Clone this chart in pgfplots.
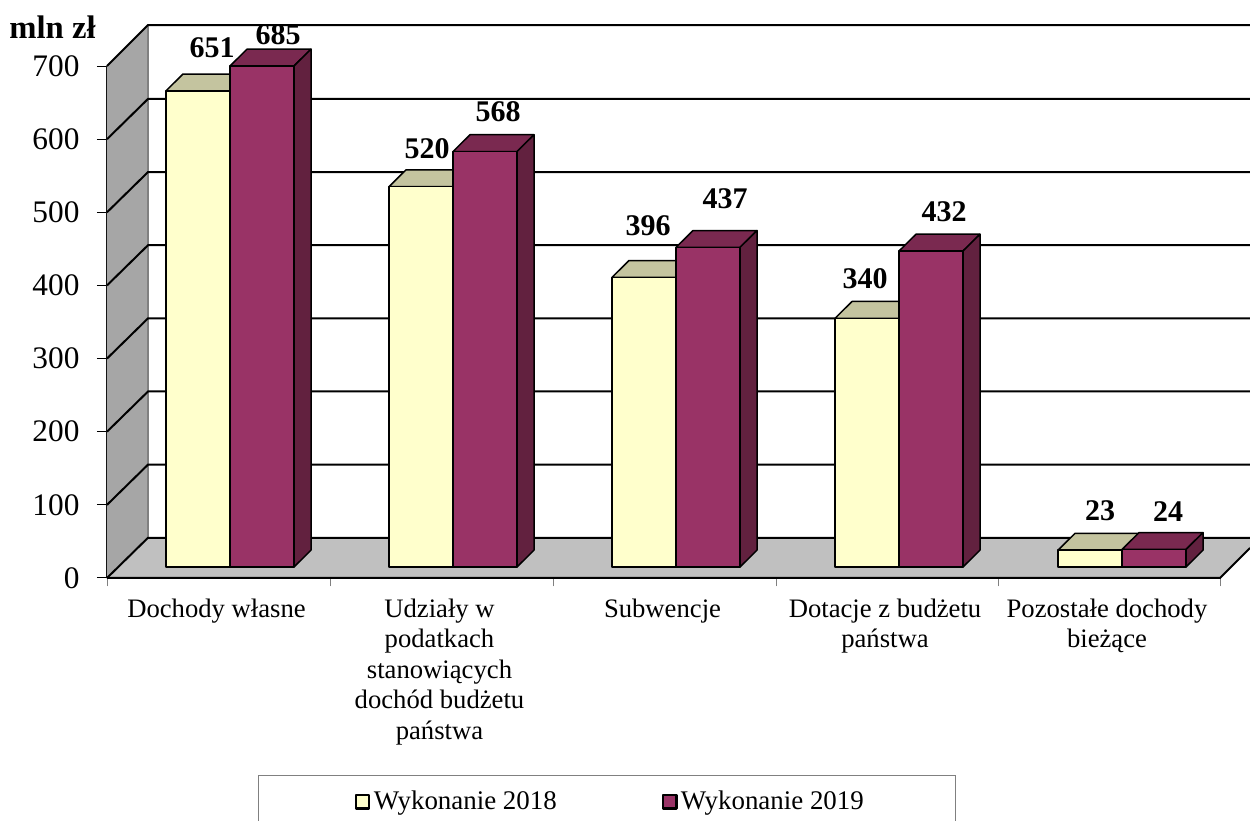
\documentclass[border=0pt]{standalone}
\usepackage{pgfplots}
\pgfplotsset{compat=1.18}
\usepackage{fontspec}
\setmainfont{Liberation Serif}
\definecolor{yfront}{HTML}{FFFFCC}
\definecolor{ytop}{HTML}{C4C49F}
\definecolor{mfront}{HTML}{993366}
\definecolor{mtop}{HTML}{7A2950}
\definecolor{mside}{HTML}{62213F}
\definecolor{wallc}{HTML}{A6A6A6}
\definecolor{floorc}{HTML}{C0C0C0}
\pgfplotstableread{
x y
198 651
421 520
644 396
867 340
1090 23
}\wykA
\pgfplotstableread{
x y
262 685
485 568
708 437
931 432
1154 24
}\wykB
\pgfplotsset{common/.style={scale only axis,width=685.8pt,height=307.2pt,xmin=107,xmax=1250,ymin=0,ymax=700,clip=false,anchor=south west}}
\begin{document}
\begin{tikzpicture}
\useasboundingbox (0,0) rectangle (750pt,492.6pt);
% walls, floor, grid, ticks
\begin{axis}[common,at={(64.2pt,145.8pt)},
  axis x line=bottom,axis y line=left,x axis line style={draw=none},
  y axis line style={-,line width=0.9pt},
  tick align=outside,major tick length=6pt,minor tick length=5pt,
  ytick={0,100,200,300,400,500,600,700},
  xtick={216.5,439.5,662.5,885,1107},
  minor xtick={107,330,553,776,998,1220},
  major x tick style={draw=none},
  minor x tick style={draw=gray},
  ytick style={draw=black,line width=0.6pt},
  xticklabels={{Dochody własne},{Udziały w\\podatkach\\stanowiących\\dochód budżetu\\państwa},{Subwencje},{Dotacje z budżetu\\państwa},{Pozostałe dochody\\bieżące}},
  x tick label style={font=\fontsize{16}{18.3}\selectfont,align=center,anchor=north,yshift=-3pt},
  y tick label style={font=\fontsize{18.8}{20}\selectfont},
  /pgf/number format/assume math mode=true,
  yticklabel style={xshift=-7pt},
]
\addplot[fill=wallc,draw=none] coordinates {(107,0)(148,55)(148,756)(107,700)} --cycle;
\addplot[fill=floorc,draw=none] coordinates {(107,0)(148,55)(1250,55)(1250,41)(1220,0)} --cycle;
\addplot[gray,line width=0.7pt] coordinates {(148,55)(148,756)};
\addplot[black,line width=1.2pt] coordinates {(107,0)(148,55)(1250,55)};
\addplot[black,line width=1.2pt] coordinates {(107,100)(148,155)(1250,155)};
\addplot[black,line width=1.2pt] coordinates {(107,200)(148,255)(1250,255)};
\addplot[black,line width=1.2pt] coordinates {(107,300)(148,355)(1250,355)};
\addplot[black,line width=1.2pt] coordinates {(107,400)(148,455)(1250,455)};
\addplot[black,line width=1.2pt] coordinates {(107,500)(148,555)(1250,555)};
\addplot[black,line width=1.2pt] coordinates {(107,600)(148,655)(1250,655)};
\addplot[black,line width=1.2pt] coordinates {(107,700)(148,756)(1250,756)};
\addplot[black,line width=1.2pt] coordinates {(107,0)(1220,0)(1250,41)};
\end{axis}
% bars
\begin{axis}[common,at={(64.2pt,152.4pt)},hide axis,
  legend style={at={(axis cs:611,-321)},anchor=center,draw=none,fill=none,font=\fontsize{16.15}{18}\selectfont,
    /tikz/every even column/.append style={column sep=61pt},inner sep=0pt},
  legend columns=2,
  legend image code/.code={\draw[#1,line width=1.4pt] (1pt,-4pt) rectangle (9pt,4pt);},
]
\pgfplotsset{every axis plot/.append style={line join=round}}
% group 1
\addplot[fill=ytop,draw=black,line width=0.9pt,forget plot] coordinates {(166,651)(230,651)(247,674)(183,674)} --cycle;
\addplot[fill=mtop,draw=black,line width=0.9pt,forget plot] coordinates {(230,685)(294,685)(311,708)(247,708)} --cycle;
\addplot[fill=mside,draw=black,line width=0.9pt,forget plot] coordinates {(294,0)(311,23)(311,708)(294,685)} --cycle;
% group 2
\addplot[fill=ytop,draw=black,line width=0.9pt,forget plot] coordinates {(389,520)(453,520)(470,543)(406,543)} --cycle;
\addplot[fill=mtop,draw=black,line width=0.9pt,forget plot] coordinates {(453,568)(517,568)(534,591)(470,591)} --cycle;
\addplot[fill=mside,draw=black,line width=0.9pt,forget plot] coordinates {(517,0)(534,23)(534,591)(517,568)} --cycle;
% group 3
\addplot[fill=ytop,draw=black,line width=0.9pt,forget plot] coordinates {(612,396)(676,396)(693,419)(629,419)} --cycle;
\addplot[fill=mtop,draw=black,line width=0.9pt,forget plot] coordinates {(676,437)(740,437)(757,460)(693,460)} --cycle;
\addplot[fill=mside,draw=black,line width=0.9pt,forget plot] coordinates {(740,0)(757,23)(757,460)(740,437)} --cycle;
% group 4
\addplot[fill=ytop,draw=black,line width=0.9pt,forget plot] coordinates {(835,340)(899,340)(916,363)(852,363)} --cycle;
\addplot[fill=mtop,draw=black,line width=0.9pt,forget plot] coordinates {(899,432)(963,432)(980,455)(916,455)} --cycle;
\addplot[fill=mside,draw=black,line width=0.9pt,forget plot] coordinates {(963,0)(980,23)(980,455)(963,432)} --cycle;
% group 5
\addplot[fill=ytop,draw=black,line width=0.9pt,forget plot] coordinates {(1058,23)(1122,23)(1139,46)(1075,46)} --cycle;
\addplot[fill=mtop,draw=black,line width=0.9pt,forget plot] coordinates {(1122,24)(1186,24)(1203,47)(1139,47)} --cycle;
\addplot[fill=mside,draw=black,line width=0.9pt,forget plot] coordinates {(1186,0)(1203,23)(1203,47)(1186,24)} --cycle;
% fronts
\addplot[ybar,bar width=64,bar shift=0pt,fill=yfront,draw=black,line width=0.9pt] table[x=x,y=y] {\wykA};
\addlegendentry{Wykonanie 2018}
\addplot[ybar,bar width=64,bar shift=0pt,fill=mfront,draw=black,line width=0.9pt] table[x=x,y=y] {\wykB};
\addlegendentry{Wykonanie 2019}
% value labels
\foreach \xx/\yy/\tt in {212/709.6/651,278/728/685,427/571.5/520,498/622.1/568,648/466.2/396,725/503.1/437,865/393.8/340,944/485.4/432,1100/76.6/23,1168/75.2/24}{
  \edef\temp{\noexpand\node[font=\noexpand\fontsize{18}{19}\noexpand\selectfont\noexpand\bfseries] at (axis cs:\xx,\yy) {\tt};}
  \temp
}
\end{axis}
\node[font=\fontsize{19.6}{20}\selectfont\bfseries] at (31.5pt,476.4pt) {mln zł};
\draw[gray,line width=0.5pt] (154.8pt,0pt) -- (154.8pt,27.6pt) -- (573pt,27.6pt) -- (573pt,0pt);
\end{tikzpicture}
\end{document}
